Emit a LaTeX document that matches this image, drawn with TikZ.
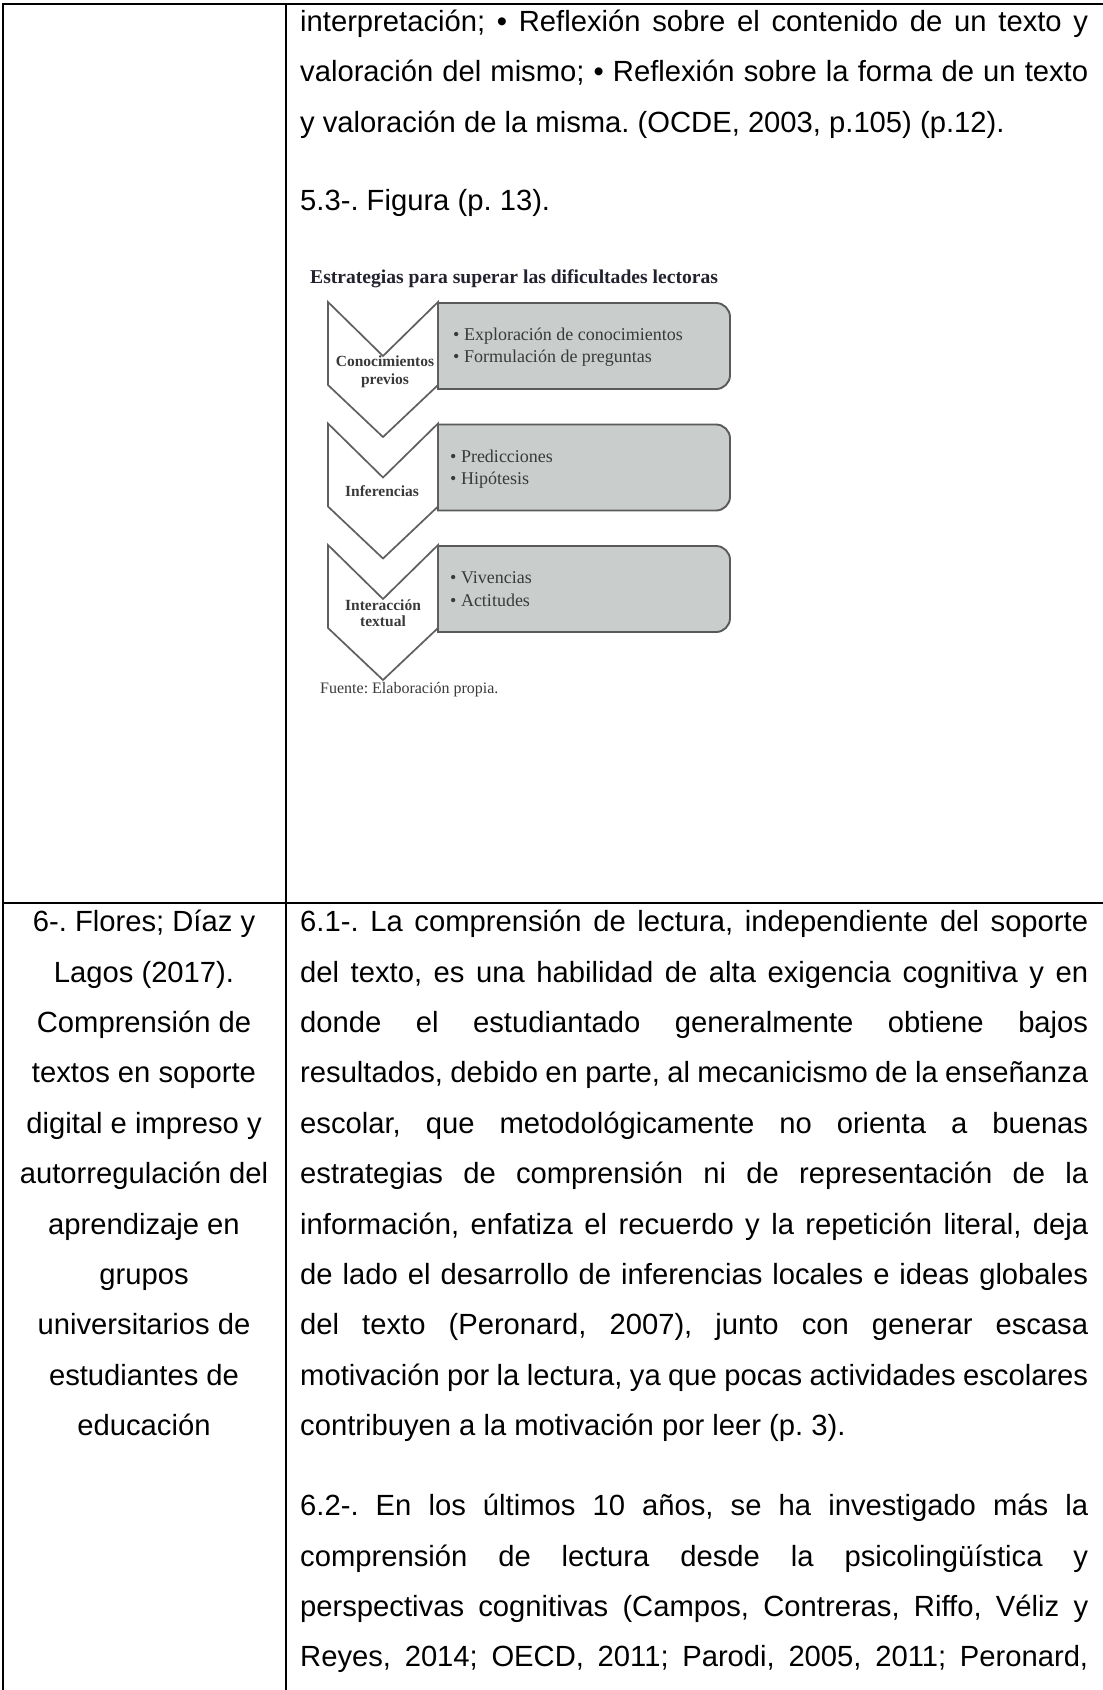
\documentclass[tikz,border=0pt]{standalone}
\usepackage{fontspec}
\setmainfont{Liberation Sans}
\newfontfamily\figserif{Liberation Serif}
\AtBeginDocument{\frenchspacing}

\definecolor{cardfill}{RGB}{201,205,204}
\definecolor{cardline}{RGB}{90,90,90}
\definecolor{chevline}{RGB}{95,95,95}
\definecolor{figtext}{RGB}{58,58,58}
\definecolor{titlecol}{RGB}{35,35,48}

% one justified line of the right-hand column
\newcommand\jl[1]{\makebox[788pt][s]{#1}}

\begin{document}
\begin{tikzpicture}[x=1pt,y=-1pt,
  rule/.style={line width=2.2pt,black,line cap=rect},
  jline/.style={anchor=base west,inner sep=0pt},
  cline/.style={anchor=base,inner sep=0pt},
  chev/.style={draw=chevline,line width=1.7pt,fill=white,line join=miter},
  card/.style={draw=cardline,line width=1.9pt,fill=cardfill},
  cardtxt/.style={anchor=base west,inner sep=0pt,text=figtext,
    font=\figserif\fontsize{18}{21}\selectfont},
  chevtxt/.style={anchor=base,inner sep=0pt,text=figtext,
    font=\figserif\bfseries\fontsize{15.5}{17}\selectfont},
  font=\fontsize{29.2}{50.4}\selectfont]

\useasboundingbox (0,0) rectangle (1103,1690);
\fill[white] (0,0) rectangle (1103,1690);

% table rules
\draw[rule] (2.7,1690) -- (2.7,4) -- (1103,4);
\draw[rule] (286,4) -- (286,1690);
\draw[rule] (2.7,903.3) -- (1103,903.3);

% upper cell, right column
\node[jline] (p1) at (300,31.4) {\jl{interpretación; • Reflexión sobre el contenido de un texto y}};
\node[jline] (p2) at (300,81.8) {\jl{valoración del mismo; • Reflexión sobre la forma de un texto}};
\node[jline] (p3) at (300,132.2) {y valoración de la misma. (OCDE, 2003, p.105) (p.12).};
\node[jline] (p4) at (300,210.8) {5.3-. Figura (p. 13).};

% figure: chevron list
\node[anchor=base west,inner sep=0pt,text=titlecol,
  font=\figserif\bfseries\fontsize{19.6}{22}\selectfont] (ttl) at (310,283)
  {Estrategias para superar las dificultades lectoras};

\foreach \t in {302,423.5,545}{
  \path[card] (438,\t+1) -- (716,\t+1) arc[start angle=90,end angle=0,radius=14pt]
    -- (730,\t+73) arc[start angle=0,end angle=-90,radius=14pt]
    -- (438,\t+87) -- cycle;
  \path[chev] (328,\t) -- (383,\t+54) -- (438,\t) -- (438,\t+83)
    -- (383,\t+135) -- (328,\t+83) -- cycle;
}

\node[chevtxt] (c1a) at (385,366.7) {Conocimientos};
\node[chevtxt] (c1b) at (385,384) {previos};
\node[chevtxt] (c2) at (382,496.7) {Inferencias};
\node[chevtxt] (c3a) at (383,610) {Interacción};
\node[chevtxt] (c3b) at (383,626.7) {textual};

\node[cardtxt] (b1a) at (453,340.5) {• Exploración de conocimientos};
\node[cardtxt] (b1b) at (453,362.2) {• Formulación de preguntas};
\node[cardtxt] (b2a) at (450,462) {• Predicciones};
\node[cardtxt] (b2b) at (450,484.8) {• Hipótesis};
\node[cardtxt] (b3a) at (450,583.8) {• Vivencias};
\node[cardtxt] (b3b) at (450,606.2) {• Actitudes};

\node[anchor=base west,inner sep=0pt,text=figtext,
  font=\figserif\fontsize{16}{18}\selectfont] (src) at (320,693)
  {Fuente: Elaboración propia.};

% lower cell, left column
\foreach \txt [count=\i from 0] in {
  {6-. Flores; Díaz y},{Lagos (2017).},{Comprensión de},{textos en soporte},
  {digital e impreso y},{autorregulación del},{aprendizaje en},{grupos},
  {universitarios de},{estudiantes de},{educación}}{
  \node[cline] (ref\i) at (144,931.7+50.4*\i) {\txt};
}

% lower cell, right column: paragraph 6.1
\foreach \txt [count=\i from 0] in {
  {6.1-. La comprensión de lectura, independiente del soporte},
  {del texto, es una habilidad de alta exigencia cognitiva y en},
  {donde el estudiantado generalmente obtiene bajos},
  {resultados, debido en parte, al mecanicismo de la enseñanza},
  {escolar, que metodológicamente no orienta a buenas},
  {estrategias de comprensión ni de representación de la},
  {información, enfatiza el recuerdo y la repetición literal, deja},
  {de lado el desarrollo de inferencias locales e ideas globales},
  {del texto (Peronard, 2007), junto con generar escasa},
  {motivación por la lectura, ya que pocas actividades escolares}}{
  \node[jline] (qa\i) at (300,931.7+50.4*\i) {\jl{\txt}};
}
\node[jline] (qa10) at (300,1435.7) {contribuyen a la motivación por leer (p. 3).};

% paragraph 6.2
\foreach \txt [count=\i from 0] in {
  {6.2-. En los últimos 10 años, se ha investigado más la},
  {comprensión de lectura desde la psicolingüística y},
  {perspectivas cognitivas (Campos, Contreras, Riffo, Véliz y},
  {Reyes, 2014; OECD, 2011; Parodi, 2005, 2011; Peronard,}}{
  \node[jline] (qb\i) at (300,1515.7+50.4*\i) {\jl{\txt}};
}

\end{tikzpicture}
\end{document}
